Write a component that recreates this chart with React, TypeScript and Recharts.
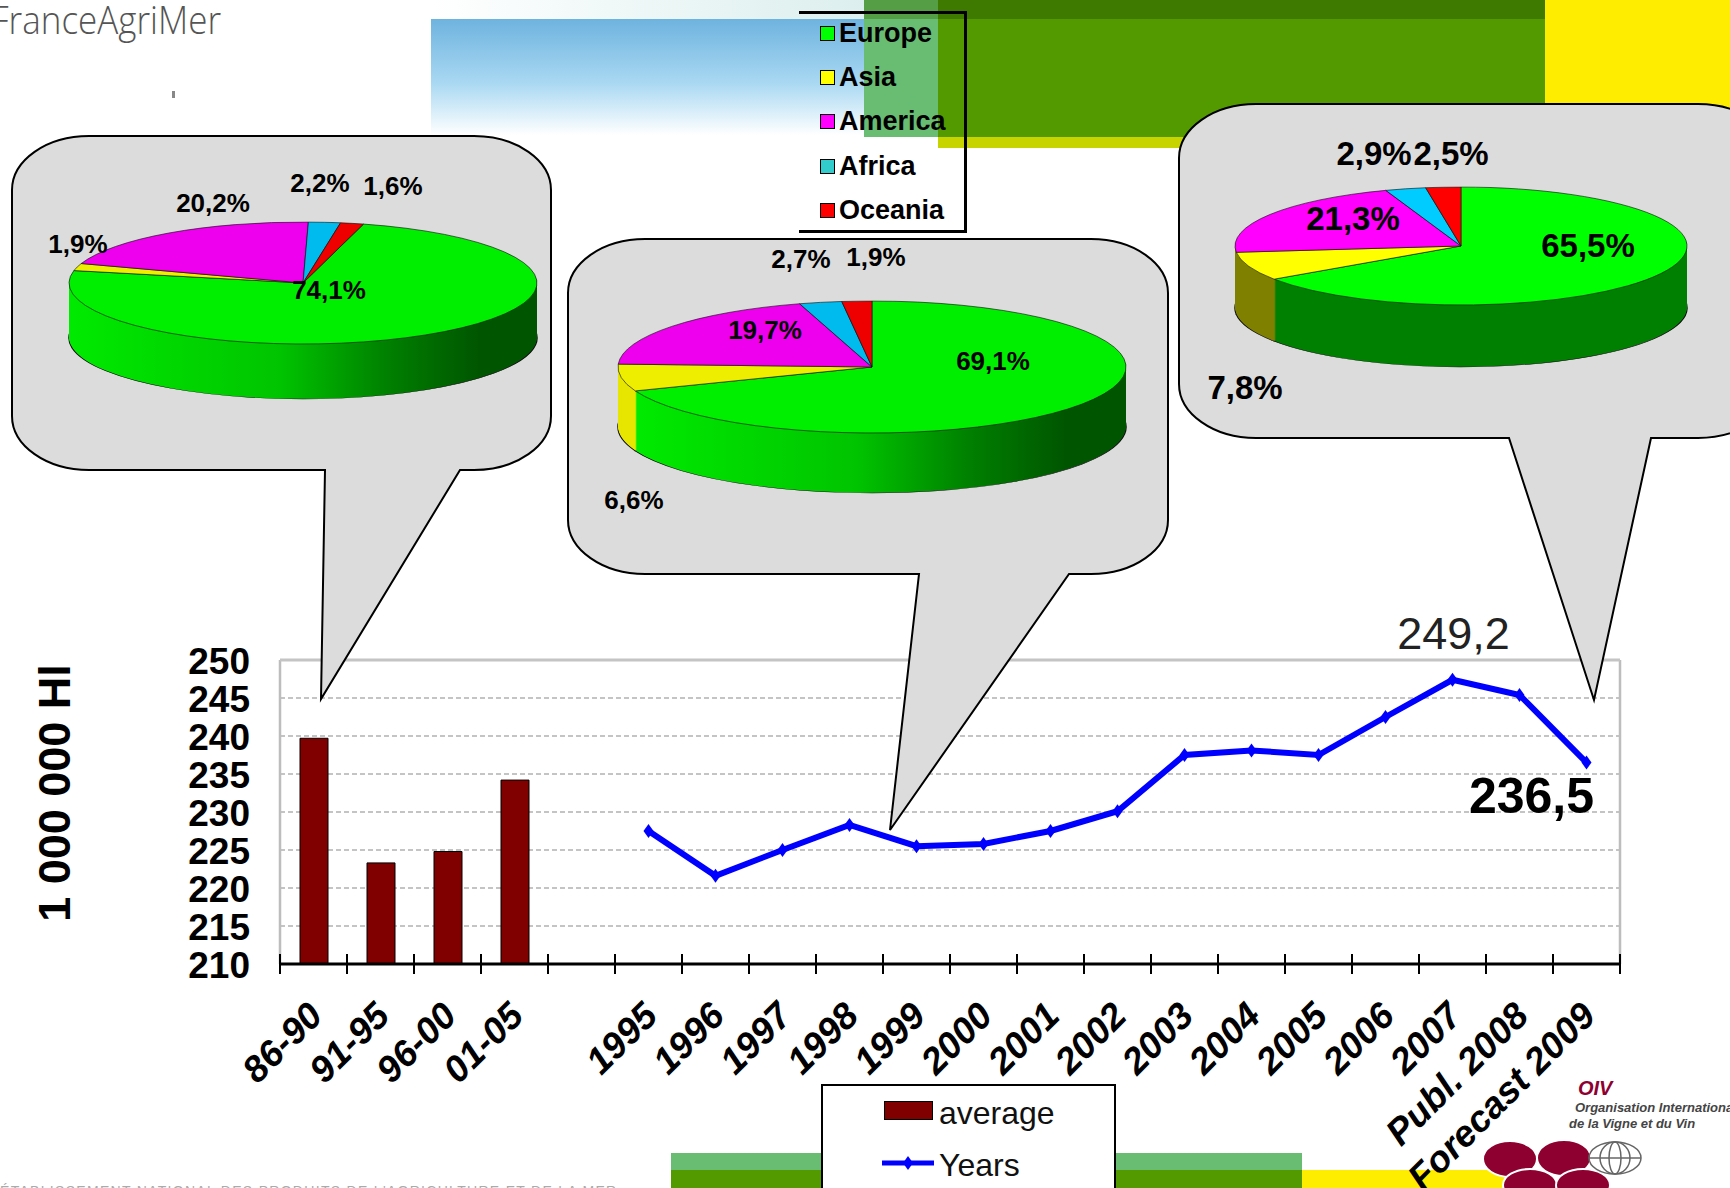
import React from 'react';
import {
  Bar,
  CartesianGrid,
  Cell,
  ComposedChart,
  Legend,
  Line,
  Pie,
  PieChart,
  ReferenceLine,
  XAxis,
  YAxis,
} from 'recharts';

const ARIAL = '"Liberation Sans", Arial, sans-serif';

// main chart data
const periods = ['86-90', '91-95', '96-00', '01-05', ' ', '1995', '1996', '1997', '1998', '1999', '2000', '2001', '2002', '2003', '2004', '2005', '2006', '2007', 'Publ. 2008', 'Forecast 2009'];
const averageValues = [239.7, 223.3, 224.8, 234.2, null, null, null, null, null, null, null, null, null, null, null, null, null, null, null, null];
const yearValues = [null, null, null, null, null, 227.5, 221.6, 225, 228.3, 225.5, 225.8, 227.5, 230.1, 237.5, 238.1, 237.5, 242.5, 247.4, 245.4, 236.5];
const yearLabels = ['', '', '', '', '', '', '', '', '', '', '', '', '', '', '', '', '', '249,2', '', '236,5'];
const yTicks = [210, 215, 220, 225, 230, 235, 240, 245, 250];

// pie data
const continents = ['Europe', 'Asia', 'America', 'Africa', 'Oceania'];
const pieLeft = [74.1, 1.9, 20.2, 2.2, 1.6];
const pieMiddle = [69.1, 6.6, 19.7, 2.7, 1.9];
const pieRight = [65.5, 7.8, 21.3, 2.9, 2.5];

const legendColors = ['#00ff00', '#ffff00', '#ff00ff', '#33cccc', '#ff0000'];

const PLOT_LEFT = 280;
const PLOT_RIGHT = 1620;
const PLOT_TOP = 660;
const PLOT_BOTTOM = 964;
const BAND = (PLOT_RIGHT - PLOT_LEFT) / periods.length;

const rows = periods.map((label, i) => ({
  label,
  average: averageValues[i],
  years: yearValues[i],
}));

const XTick = ({ x, payload, index }: any) => {
  const edge = x - BAND / 2;
  return (
    <g>
      <line x1={edge} x2={edge} y1={PLOT_BOTTOM - 10} y2={PLOT_BOTTOM + 10} stroke="#000" strokeWidth={2} />
      {index === periods.length - 1 && (
        <line x1={x + BAND / 2} x2={x + BAND / 2} y1={PLOT_BOTTOM - 10} y2={PLOT_BOTTOM + 10} stroke="#000" strokeWidth={2} />
      )}
      <text
        transform={`translate(${x + 11},${PLOT_BOTTOM + 54}) rotate(-45)`}
        textAnchor="end"
        fontFamily={ARIAL}
        fontSize={37}
        fontWeight={700}
        fontStyle="italic"
        fill="#000"
      >
        {payload.value}
      </text>
    </g>
  );
};

const Diamond = ({ cx, cy, index }: any) =>
  cy == null ? (
    <g key={index} />
  ) : (
    <path key={index} d={`M${cx} ${cy - 7}L${cx + 5} ${cy}L${cx} ${cy + 7}L${cx - 5} ${cy}Z`} fill="#0000ff" />
  );

const YearLabel = ({ x, y, index }: any) => {
  const text = yearLabels[index];
  if (!text) return <g key={index} />;
  const last = index === periods.length - 1;
  return (
    <text
      key={index}
      x={last ? x - 55 : x + 1}
      y={last ? y + 50 : y - 31}
      textAnchor="middle"
      fontFamily={ARIAL}
      fontSize={last ? 50 : 45}
      fontWeight={last ? 700 : 400}
      fill={last ? '#000' : '#222'}
    >
      {text}
    </text>
  );
};

const SeriesLegend = ({ payload }: any) => (
  <div style={{ position: 'relative', width: 295, height: 120, background: '#fff', border: '2px solid #000', boxSizing: 'border-box', fontFamily: ARIAL, fontSize: 32, color: '#111' }}>
    {(payload || []).map((item: any) => {
      const isBar = item.dataKey === 'average';
      return (
        <div key={item.dataKey} style={{ position: 'absolute', left: 0, top: isBar ? 8 : 60, height: 40, width: '100%' }}>
          {isBar ? (
            <div style={{ position: 'absolute', left: 61, top: 7, width: 47, height: 17, background: '#800000', border: '1px solid #000' }} />
          ) : (
            <svg style={{ position: 'absolute', left: 58, top: -1 }} width={54} height={40}>
              <line x1={1} x2={53} y1={18} y2={18} stroke="#0000ff" strokeWidth={5} />
              <path d="M27 11L32 18L27 25L22 18Z" fill="#0000ff" />
            </svg>
          )}
          <span style={{ position: 'absolute', left: 116, top: 1, whiteSpace: 'nowrap' }}>{item.value}</span>
        </div>
      );
    })}
  </div>
);

const bubbles = [
  { x: 12, y: 136, w: 539, h: 334, tailL: 325, tailR: 460, tipX: 321, tipY: 699 },
  { x: 568, y: 239, w: 600, h: 335, tailL: 919, tailR: 1069, tipX: 890, tipY: 830 },
  { x: 1179, y: 104, w: 596, h: 334, tailL: 1509, tailR: 1651, tipX: 1594, tipY: 700 },
];

const bubblePath = ({ x, y, w, h, tailL, tailR, tipX, tipY }: any) => {
  const rx = 77;
  const ry = 54;
  const r = x + w;
  const b = y + h;
  return [
    `M${x + rx} ${y}`,
    `L${r - rx} ${y}`,
    `A${rx} ${ry} 0 0 1 ${r} ${y + ry}`,
    `L${r} ${b - ry}`,
    `A${rx} ${ry} 0 0 1 ${r - rx} ${b}`,
    `L${tailR} ${b}`,
    `L${tipX} ${tipY}`,
    `L${tailL} ${b}`,
    `L${x + rx} ${b}`,
    `A${rx} ${ry} 0 0 1 ${x} ${b - ry}`,
    `L${x} ${y + ry}`,
    `A${rx} ${ry} 0 0 1 ${x + rx} ${y}`,
    'Z',
  ].join(' ');
};

interface Pie3DProps {
  id: string;
  values: number[];
  cx: number;
  cy: number;
  rx: number;
  ry: number;
  depth: number;
  start: number;
  topColors: string[];
  sideColors: string[];
}

const Pie3D = ({ id, values, cx, cy, rx, ry, depth, start, topColors, sideColors }: Pie3DProps) => {
  const squash = ry / rx;
  const size = 2 * rx + 6;
  const height = size + depth / squash + 6;
  const data = continents.map((name, i) => ({ name, value: values[i] }));
  const steps: number[] = [];
  for (let d = depth; d > 0; d -= 1) steps.push(d);
  return (
    <div
      className="pie3d"
      style={{
        position: 'absolute',
        left: cx - size / 2,
        top: cy - size / 2,
        width: size,
        height,
        transform: `scaleY(${squash})`,
        transformOrigin: `${size / 2}px ${size / 2}px`,
      }}
    >
      <PieChart width={size} height={height} margin={{ top: 0, right: 0, bottom: 0, left: 0 }}>
        <defs>
          <linearGradient id={id} x1="0" x2="1" y1="0" y2="0">
            <stop offset="0%" stopColor="#00ea00" />
            <stop offset="45%" stopColor="#00c400" />
            <stop offset="68%" stopColor="#008000" />
            <stop offset="88%" stopColor="#005500" />
            <stop offset="100%" stopColor="#005500" />
          </linearGradient>
        </defs>
        {steps.map((d) => (
          <Pie
            key={d}
            data={data}
            dataKey="value"
            cx={size / 2}
            cy={size / 2 + d / squash}
            outerRadius={rx}
            startAngle={start}
            endAngle={start - 360}
            stroke="none"
            isAnimationActive={false}
          >
            {sideColors.map((c, i) => (
              <Cell key={i} fill={c === 'gradient' ? `url(#${id})` : c} stroke={d === depth ? '#111' : 'none'} strokeWidth={1.5} />
            ))}
          </Pie>
        ))}
        <Pie
          data={data}
          dataKey="value"
          cx={size / 2}
          cy={size / 2}
          outerRadius={rx}
          startAngle={start}
          endAngle={start - 360}
          isAnimationActive={false}
        >
          {topColors.map((c, i) => (
            <Cell key={i} fill={c} stroke="#111" strokeWidth={1} />
          ))}
        </Pie>
      </PieChart>
    </div>
  );
};

const softTop = ['#00ee00', '#eeee00', '#ee00ee', '#00bbee', '#ee0000'];
const leftSide = ['gradient', '#00e600', '#00e600', '#005500', '#005500'];
const middleSide = ['gradient', '#e6e600', '#e6e600', '#005500', '#005500'];
const pureTop = ['#00ff00', '#ffff00', '#ff00ff', '#00ccff', '#ff0000'];
const rightSide = ['#008000', '#808000', '#808000', '#008000', '#008000'];

const pct = (v: number) => `${v.toFixed(1).replace('.', ',')}%`;

// centres of the percentage labels, same order as continents
const leftLabelPos = [[329, 290], [78, 244], [213, 203], [320, 183], [393, 186]];
const middleLabelPos = [[993, 361], [634, 500], [765, 330], [801, 259], [876, 257]];
const rightLabelPos = [[1588, 245], [1245, 387], [1353, 218], [1374, 153], [1451, 153]];

const PieLabels = ({ values, pos, size }: { values: number[]; pos: number[][]; size: number }) => (
  <>
    {values.map((v, i) => (
      <text key={i} x={pos[i][0]} y={pos[i][1] + size * 0.36} textAnchor="middle" fontFamily={ARIAL} fontWeight={700} fontSize={size} fill="#000">
        {pct(v)}
      </text>
    ))}
  </>
);

export default function App() {
  return (
    <div style={{ position: 'absolute', left: 0, top: 0, width: 1730, height: 1188, overflow: 'hidden', background: '#fff' }}>
      <style>{'.pie3d path { vector-effect: non-scaling-stroke; }'}</style>

      {/* slide background */}
      <svg style={{ position: 'absolute', left: 0, top: 0 }} width={1730} height={1188}>
        <defs>
          <linearGradient id="sky" x1="0" x2="0" y1="0" y2="1">
            <stop offset="0%" stopColor="#6eb3df" />
            <stop offset="55%" stopColor="#a9d8f2" />
            <stop offset="100%" stopColor="#ffffff" />
          </linearGradient>
          <linearGradient id="skyTop" x1="0" x2="1" y1="0" y2="0">
            <stop offset="0%" stopColor="#ffffff" />
            <stop offset="100%" stopColor="#dcefee" />
          </linearGradient>
        </defs>
        <rect x={431} y={0} width={433} height={19} fill="url(#skyTop)" />
        <rect x={431} y={19} width={433} height={116} fill="url(#sky)" />
        <rect x={864} y={0} width={74} height={19} fill="#559e45" />
        <rect x={864} y={19} width={74} height={118} fill="#69bd72" />
        <rect x={938} y={137} width={607} height={11} fill="#c8d400" />
        <rect x={938} y={0} width={607} height={19} fill="#3f7a00" />
        <rect x={938} y={19} width={607} height={118} fill="#529a00" />
        <rect x={1545} y={0} width={185} height={148} fill="#ffed00" />
        <rect x={671} y={1153} width={631} height={17} fill="#69bd72" />
        <rect x={671} y={1170} width={631} height={18} fill="#529a00" />
        <rect x={1302} y={1170} width={236} height={18} fill="#ffed00" />
        <text transform="translate(221,34) scale(1,1.12)" textAnchor="end" fontFamily='"Open Sans", sans-serif' fontWeight={300} fontSize={35} fill="#555">
          FranceAgriMer
        </text>
        <rect x={172} y={91} width={3} height={7} fill="#888" />
        <text x={0} y={1196} fontFamily={ARIAL} fontSize={14} letterSpacing={1.3} fill="#aaa">
          ÉTABLISSEMENT NATIONAL DES PRODUITS DE L'AGRICULTURE ET DE LA MER
        </text>
        <text x={1578} y={1095} fontFamily={ARIAL} fontWeight={700} fontStyle="italic" fontSize={20} fill="#8e0030">
          OIV
        </text>
        <text x={1575} y={1112} fontFamily={ARIAL} fontWeight={700} fontStyle="italic" fontSize={13} fill="#444">
          Organisation Internationale
        </text>
        <text x={1569} y={1128} fontFamily={ARIAL} fontWeight={700} fontStyle="italic" fontSize={13} fill="#444">
          de la Vigne et du Vin
        </text>
        <g fill="#8e0030" stroke="#fff" strokeWidth={2}>
          <ellipse cx={1510} cy={1159} rx={27} ry={18} />
          <ellipse cx={1564} cy={1158} rx={27} ry={18} />
          <ellipse cx={1530} cy={1185} rx={27} ry={16} />
          <ellipse cx={1583} cy={1185} rx={27} ry={16} />
        </g>
        <g fill="none" stroke="#666" strokeWidth={1.5}>
          <ellipse cx={1615} cy={1158} rx={26} ry={16} />
          <ellipse cx={1615} cy={1158} rx={15} ry={16} />
          <ellipse cx={1615} cy={1158} rx={6} ry={16} />
          <line x1={1589} x2={1641} y1={1158} y2={1158} />
        </g>
      </svg>

      <div style={{ position: 'absolute', left: 0, top: 0 }}>
        <ComposedChart
          width={1730}
          height={1188}
          data={rows}
          margin={{ top: PLOT_TOP, right: 1730 - PLOT_RIGHT, bottom: 124, left: 80 }}
          barCategoryGap={0}
        >
          <CartesianGrid yAxisId="left" horizontal vertical={false} stroke="#c4c4c4" strokeWidth={2} strokeDasharray="5 3" />
          {/* plot frame, left and right */}
          <CartesianGrid yAxisId="left" horizontal={false} vertical verticalPoints={[PLOT_LEFT, PLOT_RIGHT]} stroke="#bdbdbd" strokeWidth={2.5} />
          <XAxis
            dataKey="label"
            height={100}
            interval={0}
            tickLine={false}
            axisLine={{ stroke: '#000', strokeWidth: 3 }}
            tick={<XTick />}
          />
          <YAxis
            yAxisId="left"
            width={200}
            domain={[210, 250]}
            ticks={yTicks}
            interval={0}
            tickLine={false}
            tickSize={0}
            tickMargin={30}
            axisLine={false}
            tick={{ fontFamily: ARIAL, fontSize: 37, fontWeight: 700, fill: '#000', dy: 1 }}
            label={{
              content: () => (
                <text transform="translate(70,793) rotate(-90)" textAnchor="middle" fontFamily={ARIAL} fontSize={45} fontWeight={700} fill="#000">
                  1 000 000 Hl
                </text>
              ),
            }}
          />
          <ReferenceLine yAxisId="left" y={250} stroke="#c4c4c4" strokeWidth={3} />
          <Bar yAxisId="left" dataKey="average" name="average" barSize={28} fill="#800000" stroke="#000" strokeWidth={1} isAnimationActive={false} />
          <Line
            yAxisId="left"
            dataKey="years"
            name="Years"
            type="linear"
            stroke="#0000ff"
            strokeWidth={6}
            dot={Diamond}
            label={YearLabel}
            isAnimationActive={false}
          />
          <Legend
            layout="horizontal"
            verticalAlign="middle"
            content={<SeriesLegend />}
            wrapperStyle={{ left: 821, top: 1084, width: 295, height: 120 }}
          />
        </ComposedChart>
      </div>

      {/* call-outs sit on top of the plot */}
      <svg style={{ position: 'absolute', left: 0, top: 0 }} width={1730} height={1188}>
        {bubbles.map((b, i) => (
          <path key={i} d={bubblePath(b)} fill="#dcdcdc" stroke="#000" strokeWidth={2} />
        ))}
      </svg>

      <Pie3D id="sideLeft" values={pieLeft} cx={303} cy={283} rx={234} ry={61} depth={55} start={75} topColors={softTop} sideColors={leftSide} />
      <Pie3D id="sideMiddle" values={pieMiddle} cx={872} cy={367} rx={254} ry={66} depth={60} start={90} topColors={softTop} sideColors={middleSide} />
      <Pie3D id="sideRight" values={pieRight} cx={1461} cy={246} rx={226} ry={59} depth={62} start={90} topColors={pureTop} sideColors={rightSide} />

      <svg style={{ position: 'absolute', left: 0, top: 0 }} width={1730} height={1188}>
        <PieLabels values={pieLeft} pos={leftLabelPos} size={26} />
        <PieLabels values={pieMiddle} pos={middleLabelPos} size={26} />
        <PieLabels values={pieRight} pos={rightLabelPos} size={33} />
      </svg>

      {/* continent legend */}
      <div style={{ position: 'absolute', left: 799, top: 11, width: 168, height: 222, borderTop: '3px solid #000', borderRight: '3px solid #000', borderBottom: '3px solid #000', boxSizing: 'border-box', fontFamily: ARIAL, fontWeight: 700, fontSize: 27, color: '#000' }}>
        {continents.map((name, i) => (
          <div key={name} style={{ position: 'absolute', left: 0, top: 4 + i * 44.2, height: 36, width: '100%' }}>
            <div style={{ position: 'absolute', left: 21, top: 8, width: 13, height: 13, background: legendColors[i], border: '1px solid #000' }} />
            <span style={{ position: 'absolute', left: 40, top: 0 }}>{name}</span>
          </div>
        ))}
      </div>
    </div>
  );
}
